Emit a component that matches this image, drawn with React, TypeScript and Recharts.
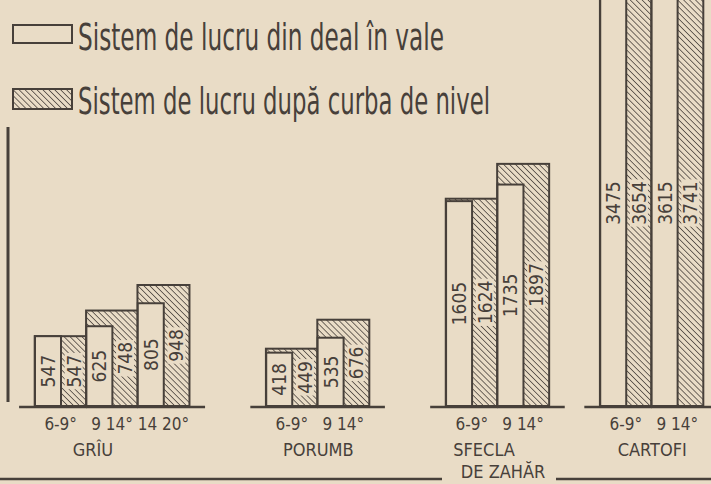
import React from 'react';
import { Bar, BarChart, XAxis, YAxis } from 'recharts';

// crop names, one entry per printed line
const crops = [['GRÎU'], ['PORUMB'], ['SFECLA', 'DE ZAHĂR'], ['CARTOFI']];
// slope classes under each pair of bars
const slopes = [
  ['6-9°', '9 14°', '14 20°'],
  ['6-9°', '9 14°'],
  ['6-9°', '9 14°'],
  ['6-9°', '9 14°'],
];
// sistem de lucru din deal în vale
const downhill = [[547, 625, 805], [418, 535], [1605, 1735], [3475, 3615]];
// sistem de lucru după curba de nivel
const contour = [[547, 748, 948], [449, 676], [1624, 1897], [3654, 3741]];
const legendLabels = ['Sistem de lucru din deal în vale', 'Sistem de lucru după curba de nivel'];

// empty bar slots between crop groups, and small nudges of the crop names
const gaps = [3, 3, 2];
const cropLabelShift = [-20, 0, -14, 0];

const INK = '#47403a';
const PAPER = '#e9dcc6';
const FONT = '"DejaVu Sans Condensed", "DejaVu Sans", sans-serif';
const TITLE_FONT = '"Liberation Sans Narrow", "DejaVu Sans Condensed", sans-serif';

type Row = {
  id: string;
  downhill?: number;
  contour?: number;
  slope?: string;
  crop?: number;
  pairs?: number;
  first?: boolean;
  last?: boolean;
};

const rows: Row[] = [];
crops.forEach((_, ci) => {
  const n = slopes[ci].length;
  slopes[ci].forEach((s, si) => {
    rows.push({ id: `${ci}-${si}-a`, downhill: downhill[ci][si], crop: si === 0 ? ci : undefined, pairs: n });
    rows.push({ id: `${ci}-${si}-b`, contour: contour[ci][si], slope: s, first: si === 0, last: si === n - 1 });
  });
  for (let k = 0; k < (gaps[ci] ?? 0); k++) rows.push({ id: `gap-${ci}-${k}` });
});

const ValueText = ({ cx, cy, value, boxed }: { cx: number; cy: number; value: number; boxed?: boolean }) => {
  const txt = String(value);
  const len = txt.length * 10.8 + 4;
  return (
    <g>
      {boxed && <rect x={cx - 9} y={cy - len / 2} width={18} height={len} fill={PAPER} />}
      <text
        x={cx}
        y={cy}
        transform={`rotate(-90 ${cx} ${cy})`}
        textAnchor="middle"
        dominantBaseline="central"
        fontFamily={FONT}
        fontSize={19}
        fill={INK}
      >
        {txt}
      </text>
    </g>
  );
};

// hatched bar: covers the whole pair, the plain bar is drawn over its left half
const ContourShape = (props: any) => {
  const { x, y, width, height, payload } = props;
  if (payload?.contour == null) return null;
  const base = y + height;
  const left = x - width - (payload.first ? width * 0.6 : 0);
  const right = x + width + (payload.last ? width * 0.6 : 0);
  return (
    <g>
      <rect x={x - width} y={y} width={width * 2} height={height} fill="url(#hatch)" stroke={INK} strokeWidth={2} />
      <line x1={left} x2={right} y1={base + 1} y2={base + 1} stroke={INK} strokeWidth={2.5} />
      <ValueText cx={x + width / 2} cy={(Math.max(y, 0) + base) / 2} value={payload.contour} boxed />
      <text x={x} y={base + 24} textAnchor="middle" fontFamily={FONT} fontSize={17} fill={INK}>
        {payload.slope}
      </text>
    </g>
  );
};

const DownhillShape = (props: any) => {
  const { x, y, width, height, payload } = props;
  if (payload?.downhill == null) return null;
  const base = y + height;
  const ci = payload.crop;
  const gx = ci != null ? x + payload.pairs * width + cropLabelShift[ci] : 0;
  return (
    <g>
      <rect x={x} y={y} width={width} height={height} fill={PAPER} stroke={INK} strokeWidth={2} />
      <ValueText cx={x + width / 2} cy={(Math.max(y, 0) + base) / 2} value={payload.downhill} />
      {ci != null &&
        crops[ci].map((line, li) => (
          <text
            key={line}
            x={gx + li * 19}
            y={base + 50 + li * 22}
            textAnchor="middle"
            fontFamily={FONT}
            fontSize={18}
            fill={INK}
          >
            {line}
          </text>
        ))}
    </g>
  );
};

export default function App() {
  return (
    <div style={{ position: 'fixed', left: 0, top: 0, width: 711, height: 484, background: PAPER, overflow: 'hidden' }}>
      <BarChart
        width={711}
        height={484}
        data={rows}
        margin={{ top: -72, right: 8, left: 35, bottom: 78 }}
        barCategoryGap={0}
        barGap={0}
      >
        <defs>
          <pattern id="hatch" width={4.2} height={4.2} patternUnits="userSpaceOnUse" patternTransform="rotate(-45)">
            <rect width={4.2} height={4.2} fill={PAPER} />
            <line x1={0} y1={0} x2={0} y2={4.2} stroke={INK} strokeWidth={1.5} />
          </pattern>
        </defs>
        <XAxis dataKey="id" hide />
        <YAxis hide domain={[0, 3745]} />
        <Bar dataKey="contour" stackId="s" shape={(p: any) => <ContourShape {...p} />} isAnimationActive={false} />
        <Bar dataKey="downhill" stackId="s" shape={(p: any) => <DownhillShape {...p} />} isAnimationActive={false} />
      </BarChart>
      <svg width={711} height={484} style={{ position: 'absolute', left: 0, top: 0, pointerEvents: 'none' }}>
        <rect x={13} y={25} width={59} height={18} fill="none" stroke={INK} strokeWidth={2} />
        <rect x={13} y={89} width={59} height={20} fill="url(#hatch)" stroke={INK} strokeWidth={2} />
        {legendLabels.map((t, i) => (
          <text
            key={t}
            x={78}
            y={50 + i * 64}
            fontFamily={TITLE_FONT}
            fontSize={38}
            fill={INK}
            textLength={i === 0 ? 366 : 412}
            lengthAdjust="spacingAndGlyphs"
          >
            {t}
          </text>
        ))}
        <line x1={8} x2={8} y1={127} y2={402} stroke={INK} strokeWidth={3} />
        <line x1={0} x2={442} y1={479} y2={479} stroke={INK} strokeWidth={2.5} />
        <line x1={556} x2={711} y1={479} y2={479} stroke={INK} strokeWidth={2.5} />
      </svg>
    </div>
  );
}
